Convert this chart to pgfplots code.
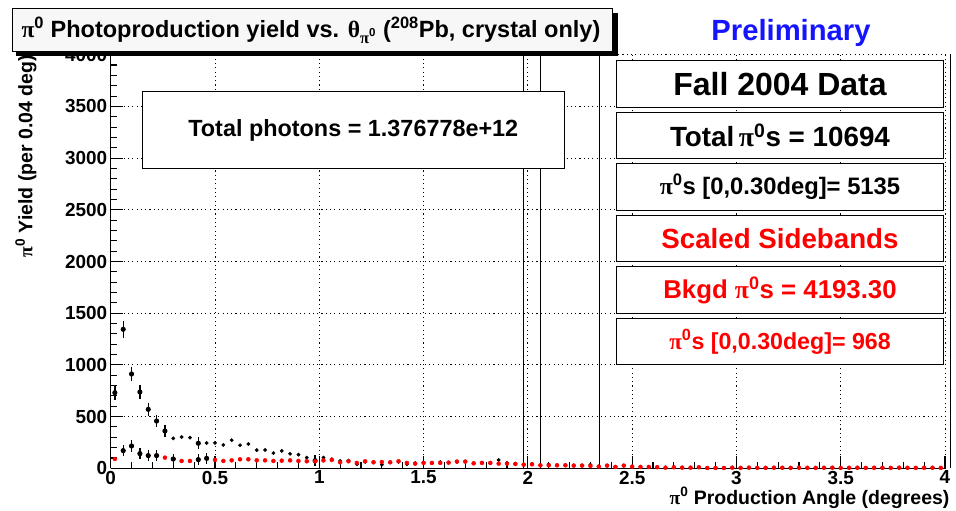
\documentclass[border=0pt]{standalone}
\usepackage{fontspec}
\setmainfont{Liberation Sans}
\newfontfamily\symf{Liberation Serif}
\usepackage{pgfplots}
\usepackage{pgfplotstable}
\pgfplotsset{compat=1.18}
\definecolor{rootred}{RGB}{255,0,0}
\definecolor{rootblue}{RGB}{20,20,255}
\newcommand{\gpi}{{\symf π}}
\newcommand{\pizero}{\gpi\textsuperscript{0}}

\pgfplotstableread{
x y
0.02 731
0.06 1344
0.10 912
0.14 738
0.18 570
0.22 457
0.26 361
0.30 290
0.34 303
0.38 296
0.42 242
0.46 245
0.50 245
0.54 226
0.58 272
0.62 223
0.66 235
0.70 176
0.74 177
0.78 147
0.82 169
0.86 140
0.90 132
0.94 103
0.98 74
1.02 103
1.06 88
1.10 70
1.14 75
1.18 39
1.22 62
1.26 60
1.30 35
1.34 58
1.38 62
1.42 39
1.46 50
1.50 55
1.54 50
1.58 61
1.62 55
1.66 62
1.70 65
1.74 50
1.78 52
1.82 50
1.86 81
1.90 52
1.94 45
1.98 38
2.02 40
2.06 30
2.10 39
2.14 30
2.18 30
2.22 28
2.26 28
2.30 35
2.34 18
2.38 26
2.42 15
2.46 26
2.50 18
2.54 14
2.58 13
2.62 11
2.66 8
2.70 11
2.74 8
2.78 7
2.82 10
2.86 5
2.90 5
2.94 5
2.98 6
3.02 5
3.06 7
3.10 5
3.14 6
3.18 5
3.22 6
3.26 5
3.30 6
3.34 5
3.38 5
3.42 6
3.46 5
3.50 5
3.54 6
3.58 5
3.62 5
3.66 6
3.70 5
3.74 5
3.78 6
3.82 5
3.86 5
3.90 5
3.94 6
3.98 5
}\blackall

\pgfplotstableread{
x y ey
0.02 731 32
0.06 1344 43
0.10 912 32
0.14 738 30
0.18 570 26
0.22 457 23
0.26 361 20
0.42 242 18
0.98 74 15
}\blackerr

\pgfplotstableread{
x y
0.02 90
0.06 171
0.10 216
0.14 142
0.18 123
0.22 123
0.26 103
0.30 90
0.34 71
0.38 71
0.42 84
0.46 96
0.50 81
0.54 71
0.58 77
0.62 87
0.66 87
0.70 77
0.74 77
0.78 71
0.82 74
0.86 77
0.90 71
0.94 68
0.98 68
1.02 76
1.06 81
1.10 58
1.14 68
1.18 52
1.22 68
1.26 58
1.30 61
1.34 58
1.38 68
1.42 52
1.46 45
1.50 52
1.54 52
1.58 52
1.62 55
1.66 65
1.70 65
1.74 48
1.78 52
1.82 52
1.86 45
1.90 45
1.94 42
1.98 35
2.02 39
2.06 29
2.10 29
2.14 29
2.18 29
2.22 26
2.26 26
2.30 23
2.34 16
2.38 26
2.42 13
2.46 26
2.50 16
2.54 13
2.58 13
2.62 10
2.66 6
2.70 10
2.74 6
2.78 6
2.82 10
2.86 3
2.90 3
2.94 3
2.98 6
3.02 4
3.06 6
3.10 5
3.14 4
3.18 6
3.22 5
3.26 4
3.30 6
3.34 5
3.38 4
3.42 5
3.46 6
3.50 4
3.54 5
3.58 6
3.62 4
3.66 5
3.70 5
3.74 4
3.78 6
3.82 5
3.86 4
3.90 5
3.94 5
3.98 4
}\redall

\pgfplotstableread{
x y ey
0.06 171 18
0.10 216 20
0.14 142 15
0.18 123 13
0.22 123 13
0.30 90 12
0.42 84 12
0.46 96 12
}\rederr

\begin{document}
\begin{tikzpicture}
\path[use as bounding box] (0pt,0pt) rectangle (956pt,511pt);
\begin{axis}[
  at={(110.7pt,42.7pt)}, anchor=south west,
  scale only axis, width=834.3pt, height=413.6pt,
  xmin=0, xmax=4, ymin=0, ymax=4000,
  axis lines*=left,
  axis line style={-, line width=1.5pt, black},
  xtick={0,0.5,...,4}, ytick={0,500,...,4000},
  minor x tick num=4, minor y tick num=4,
  tick align=inside,
  major tick length=12pt, minor tick length=6pt,
  tick style={black, line width=1.1pt},
  grid=major,
  major grid style={black, line width=0.9pt, dash pattern=on 1.1pt off 3.2pt},
  scaled ticks=false,
  /pgf/number format/assume math mode=true,
  /pgf/number format/1000 sep={},
  tick label style={font=\fontsize{18.9}{20}\selectfont\bfseries},
  xticklabel style={yshift=1pt},
  clip=false,
]
\addplot[black, line width=1.2pt] coordinates {(1.978,0) (1.978,4000)};
\addplot[black, line width=1.2pt] coordinates {(2.061,0) (2.061,4000)};
\addplot[black, line width=1.2pt] coordinates {(2.342,0) (2.342,4000)};
\addplot[only marks, mark=*, mark size=1.7pt, black] table[x=x,y=y] {\blackall};
\addplot[only marks, mark=none, black, line width=1.1pt,
  error bars/.cd, y dir=both, y explicit,
  error mark options={black, mark size=4pt, line width=1.3pt},
  error bar style={line width=1.1pt}] table[x=x,y=y,y error=ey] {\blackerr};
\addplot[only marks, mark=*, mark size=2pt, rootred] table[x=x,y=y] {\redall};
\addplot[only marks, mark=none, black, line width=1.1pt,
  error bars/.cd, y dir=both, y explicit,
  error mark options={black, mark size=4pt, line width=1.3pt},
  error bar style={line width=1.1pt}] table[x=x,y=y,y error=ey] {\rederr};
\end{axis}
\begin{scope}[x=1pt,y=1pt]
% right frame
\draw[line width=1.5pt] (950.5,43) -- (950.5,457);
% axis titles
\node[rotate=90, anchor=west, font=\fontsize{19.5}{21}\selectfont\bfseries] at (26,250) {\pizero{} Yield (per 0.04 deg)};
\node[anchor=east, font=\fontsize{19.5}{21}\selectfont\bfseries] at (953,13) {\pizero{} Production Angle (degrees)};
% title box
\fill[black] (16,455) rectangle (618,498);
\draw[line width=1pt, fill=gray!6] (12,459) rectangle (612,502);
\node[font=\fontsize{23.5}{25}\selectfont\bfseries] at (311,481) {\pizero{} Photoproduction yield vs. {\symf θ}\textsubscript{\pizero} (\textsuperscript{208}Pb, crystal only)};
% Preliminary
\node[font=\fontsize{29.2}{32}\selectfont\bfseries, text=rootblue] at (791,478) {Preliminary};
% total photons box
\draw[line width=1pt, fill=white] (142.7,419.3) rectangle (564,342);
\node[font=\fontsize{23.4}{25}\selectfont\bfseries] at (353.3,380.6) {Total photons = 1.376778e+12};
% right boxes
\draw[line width=1pt, fill=white] (616.7,450.3) rectangle (943.3,403.7);
\node[font=\fontsize{32}{34}\selectfont\bfseries] at (780,427) {Fall 2004 Data};
\draw[line width=1pt, fill=white] (616.7,398.3) rectangle (943.3,352);
\node[font=\fontsize{27.8}{30}\selectfont\bfseries] at (780,375.2) {Total\,\pizero s = 10694};
\draw[line width=1pt, fill=white] (616.7,347) rectangle (943.3,300.7);
\node[font=\fontsize{23.8}{26}\selectfont\bfseries] at (780,323.9) {\pizero s [0,0.30deg]= 5135};
\draw[line width=1pt, fill=white] (616.7,295.7) rectangle (943.3,249.3);
\node[font=\fontsize{27.7}{30}\selectfont\bfseries, text=rootred] at (780,272.5) {Scaled Sidebands};
\draw[line width=1pt, fill=white] (616.7,244) rectangle (943.3,197.7);
\node[font=\fontsize{25.8}{28}\selectfont\bfseries, text=rootred] at (780,220.9) {Bkgd \pizero s = 4193.30};
\draw[line width=1pt, fill=white] (616.7,192.7) rectangle (943.3,146);
\node[font=\fontsize{23.2}{25}\selectfont\bfseries, text=rootred] at (780,169.4) {\pizero s [0,0.30deg]= 968};
\end{scope}
\end{tikzpicture}
\end{document}
